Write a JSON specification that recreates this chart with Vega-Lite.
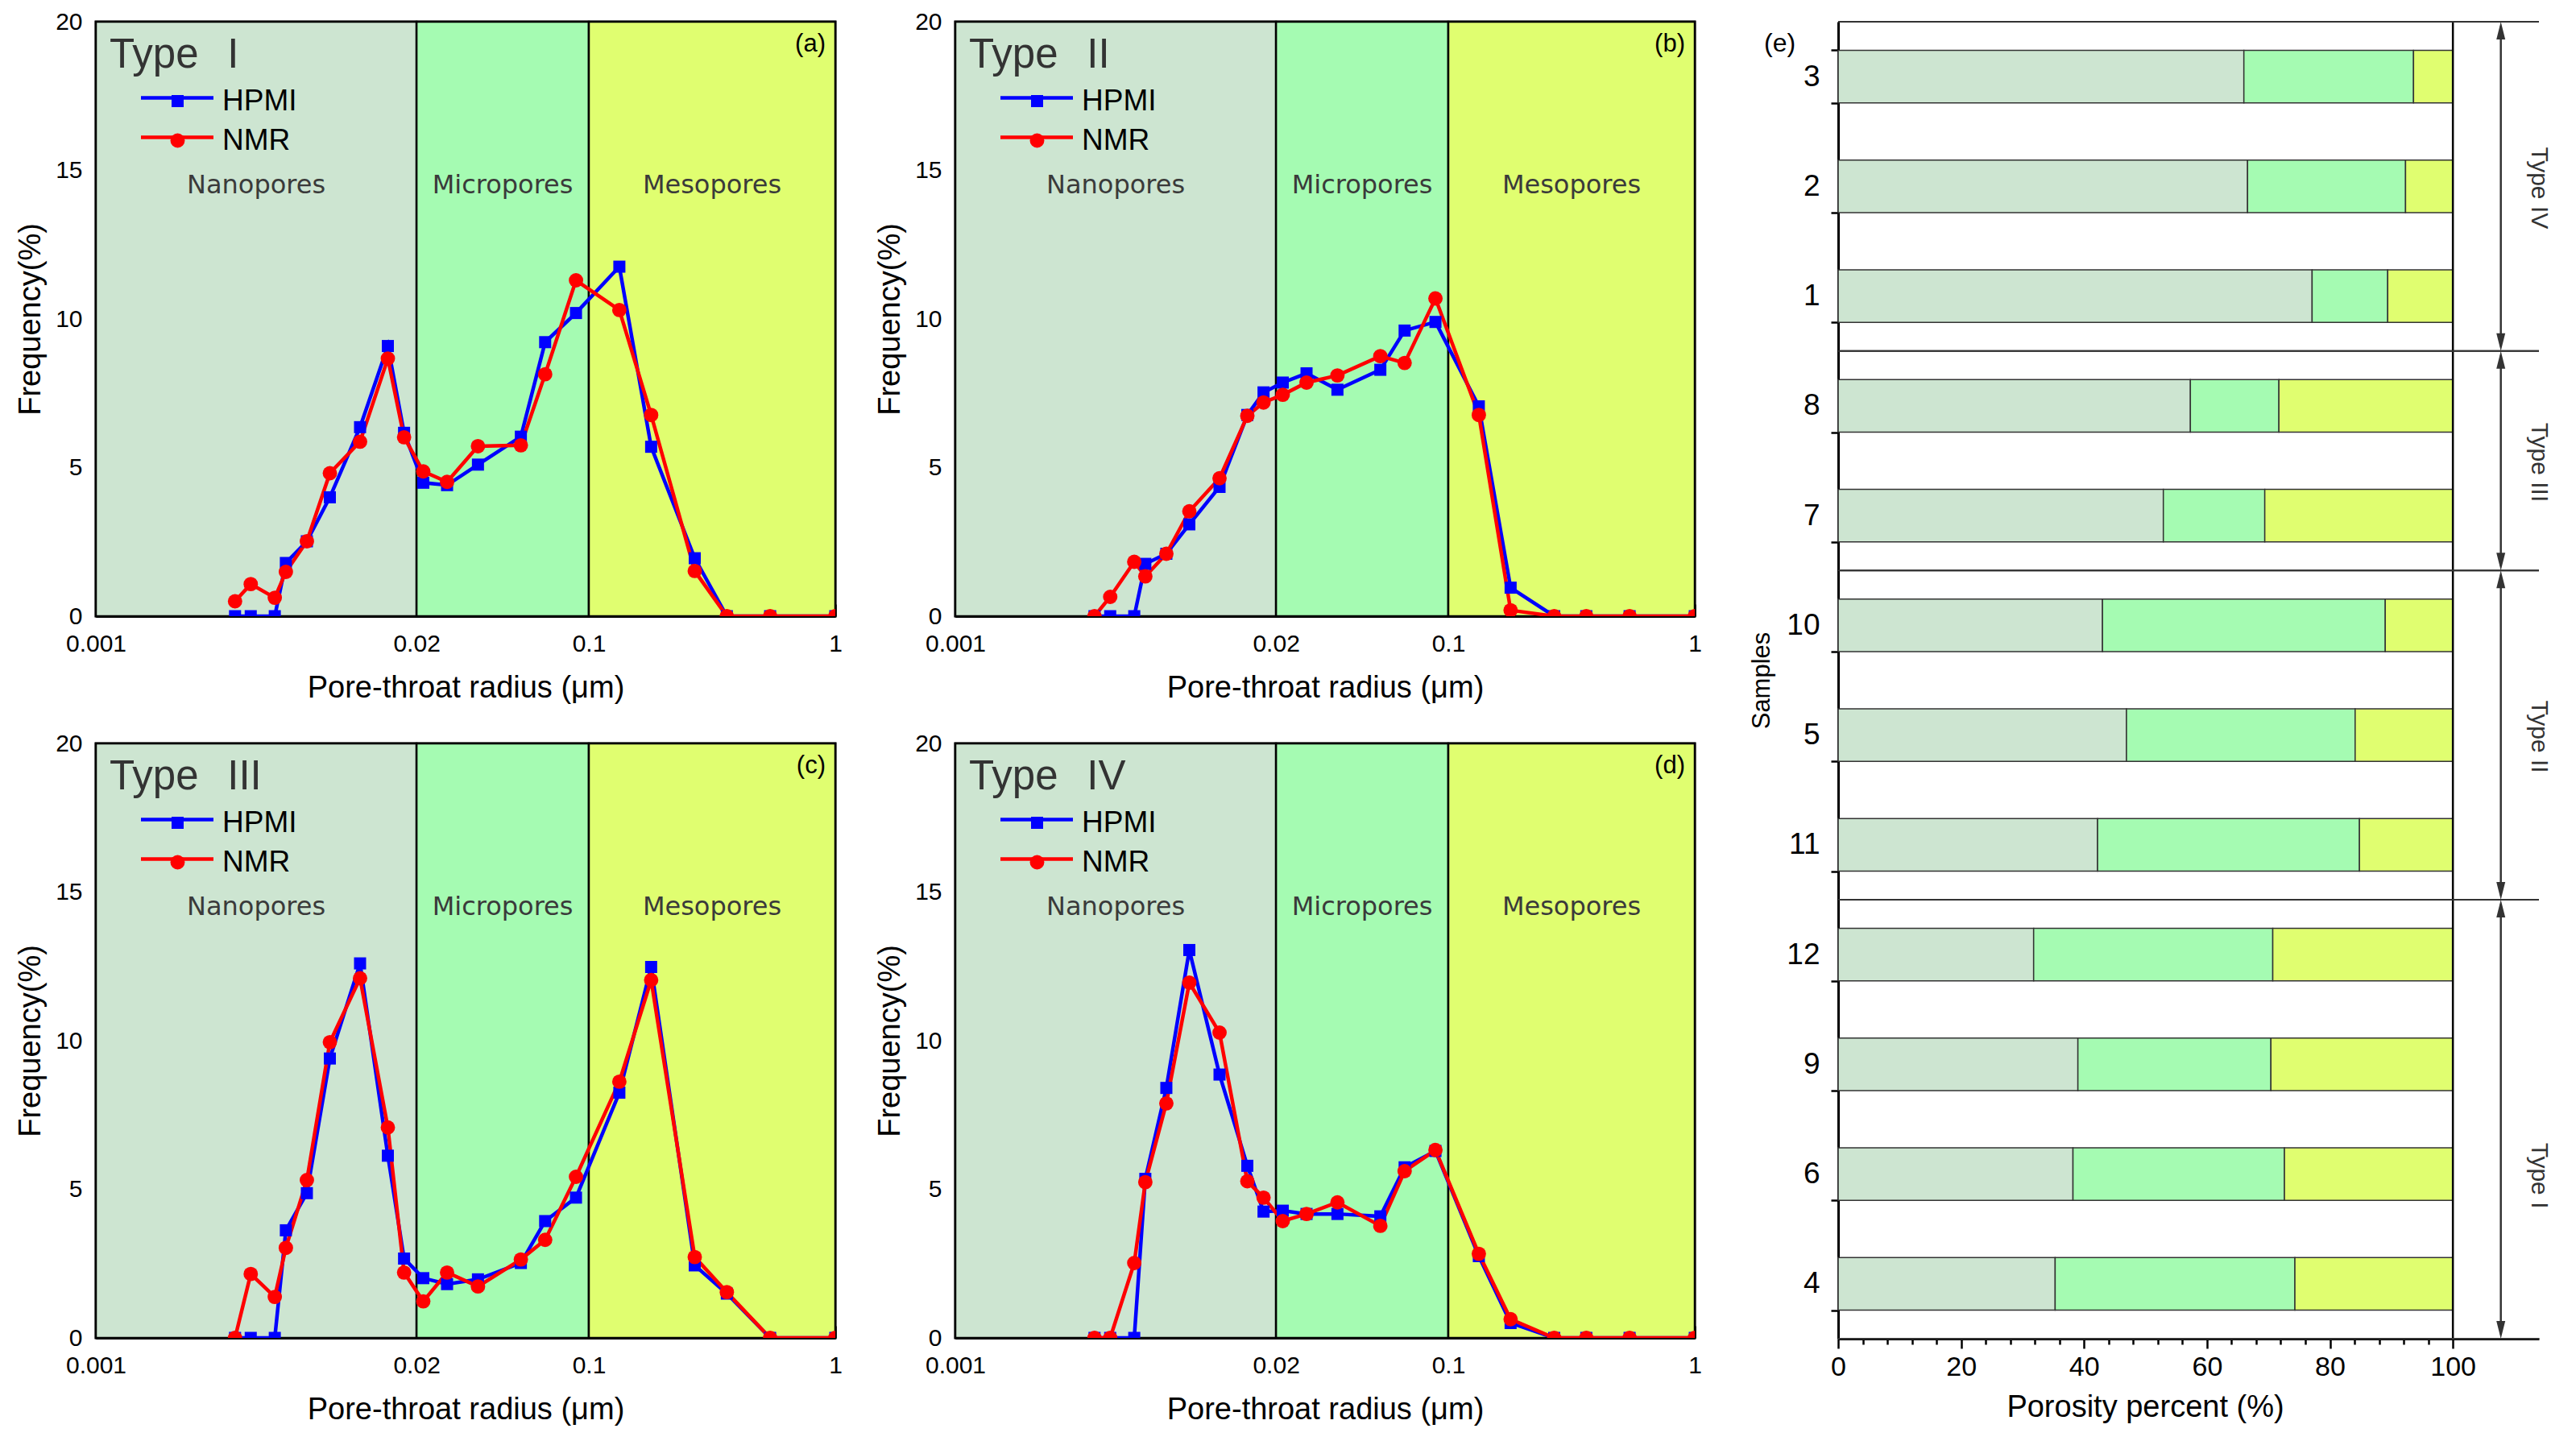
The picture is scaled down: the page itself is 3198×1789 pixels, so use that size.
{
"$schema": "https://vega.github.io/schema/vega-lite/v6.json",
"background": "white",
"padding": {"left": 18, "top": 8, "right": 30, "bottom": 0},
"config": {
 "font": "Liberation Sans",
 "view": {"stroke": "black", "strokeWidth": 3},
 "axis": {"domainColor": "black", "domainWidth": 3, "tickColor": "black", "tickWidth": 2.5, "labelColor": "black", "titleColor": "black", "labelFont": "Liberation Sans", "titleFont": "Liberation Sans", "titleFontWeight": "normal", "labelFontSize": 30, "titleFontSize": 38, "grid": false, "labelOverlap": false, "labelFlush": false}
},
"datasets": {
 "regions": [
  {"region": "Nanopores", "lo": 0.001, "hi": 0.02},
  {"region": "Micropores", "lo": 0.02, "hi": 0.1},
  {"region": "Mesopores", "lo": 0.1, "hi": 1}
 ],
 "psd": [
  {"p":"a","m":"HPMI","r":0.00367,"f":0},{"p":"a","m":"HPMI","r":0.00425,"f":0},{"p":"a","m":"HPMI","r":0.00532,"f":0},{"p":"a","m":"HPMI","r":0.0059,"f":1.79},{"p":"a","m":"HPMI","r":0.00718,"f":2.52},{"p":"a","m":"HPMI","r":0.0089,"f":4.0},{"p":"a","m":"HPMI","r":0.0118,"f":6.36},{"p":"a","m":"HPMI","r":0.0153,"f":9.09},{"p":"a","m":"HPMI","r":0.0178,"f":6.17},{"p":"a","m":"HPMI","r":0.0213,"f":4.49},{"p":"a","m":"HPMI","r":0.0266,"f":4.41},{"p":"a","m":"HPMI","r":0.0355,"f":5.1},{"p":"a","m":"HPMI","r":0.053,"f":6.04},{"p":"a","m":"HPMI","r":0.0665,"f":9.22},{"p":"a","m":"HPMI","r":0.0887,"f":10.2},{"p":"a","m":"HPMI","r":0.133,"f":11.76},{"p":"a","m":"HPMI","r":0.179,"f":5.7},{"p":"a","m":"HPMI","r":0.269,"f":1.95},{"p":"a","m":"HPMI","r":0.363,"f":0},{"p":"a","m":"HPMI","r":0.544,"f":0},{"p":"a","m":"HPMI","r":1,"f":0},
  {"p":"a","m":"NMR","r":0.00367,"f":0.5},{"p":"a","m":"NMR","r":0.00425,"f":1.08},{"p":"a","m":"NMR","r":0.00532,"f":0.62},{"p":"a","m":"NMR","r":0.0059,"f":1.49},{"p":"a","m":"NMR","r":0.00718,"f":2.52},{"p":"a","m":"NMR","r":0.0089,"f":4.81},{"p":"a","m":"NMR","r":0.0118,"f":5.87},{"p":"a","m":"NMR","r":0.0153,"f":8.67},{"p":"a","m":"NMR","r":0.0178,"f":6.02},{"p":"a","m":"NMR","r":0.0213,"f":4.87},{"p":"a","m":"NMR","r":0.0266,"f":4.52},{"p":"a","m":"NMR","r":0.0355,"f":5.72},{"p":"a","m":"NMR","r":0.053,"f":5.75},{"p":"a","m":"NMR","r":0.0665,"f":8.14},{"p":"a","m":"NMR","r":0.0887,"f":11.3},{"p":"a","m":"NMR","r":0.133,"f":10.3},{"p":"a","m":"NMR","r":0.179,"f":6.77},{"p":"a","m":"NMR","r":0.269,"f":1.52},{"p":"a","m":"NMR","r":0.363,"f":0},{"p":"a","m":"NMR","r":0.544,"f":0},{"p":"a","m":"NMR","r":1,"f":0},
  {"p":"b","m":"HPMI","r":0.00367,"f":0},{"p":"b","m":"HPMI","r":0.00425,"f":0},{"p":"b","m":"HPMI","r":0.00532,"f":0},{"p":"b","m":"HPMI","r":0.0059,"f":1.76},{"p":"b","m":"HPMI","r":0.00718,"f":2.1},{"p":"b","m":"HPMI","r":0.0089,"f":3.09},{"p":"b","m":"HPMI","r":0.0118,"f":4.35},{"p":"b","m":"HPMI","r":0.0153,"f":6.77},{"p":"b","m":"HPMI","r":0.0178,"f":7.53},{"p":"b","m":"HPMI","r":0.0213,"f":7.86},{"p":"b","m":"HPMI","r":0.0266,"f":8.17},{"p":"b","m":"HPMI","r":0.0355,"f":7.62},{"p":"b","m":"HPMI","r":0.053,"f":8.29},{"p":"b","m":"HPMI","r":0.0665,"f":9.61},{"p":"b","m":"HPMI","r":0.0887,"f":9.9},{"p":"b","m":"HPMI","r":0.133,"f":7.06},{"p":"b","m":"HPMI","r":0.179,"f":0.96},{"p":"b","m":"HPMI","r":0.269,"f":0},{"p":"b","m":"HPMI","r":0.363,"f":0},{"p":"b","m":"HPMI","r":0.544,"f":0},{"p":"b","m":"HPMI","r":1,"f":0},
  {"p":"b","m":"NMR","r":0.00367,"f":0},{"p":"b","m":"NMR","r":0.00425,"f":0.65},{"p":"b","m":"NMR","r":0.00532,"f":1.83},{"p":"b","m":"NMR","r":0.0059,"f":1.34},{"p":"b","m":"NMR","r":0.00718,"f":2.1},{"p":"b","m":"NMR","r":0.0089,"f":3.53},{"p":"b","m":"NMR","r":0.0118,"f":4.64},{"p":"b","m":"NMR","r":0.0153,"f":6.74},{"p":"b","m":"NMR","r":0.0178,"f":7.19},{"p":"b","m":"NMR","r":0.0213,"f":7.45},{"p":"b","m":"NMR","r":0.0266,"f":7.86},{"p":"b","m":"NMR","r":0.0355,"f":8.1},{"p":"b","m":"NMR","r":0.053,"f":8.75},{"p":"b","m":"NMR","r":0.0665,"f":8.52},{"p":"b","m":"NMR","r":0.0887,"f":10.69},{"p":"b","m":"NMR","r":0.133,"f":6.77},{"p":"b","m":"NMR","r":0.179,"f":0.2},{"p":"b","m":"NMR","r":0.269,"f":0},{"p":"b","m":"NMR","r":0.363,"f":0},{"p":"b","m":"NMR","r":0.544,"f":0},{"p":"b","m":"NMR","r":1,"f":0},
  {"p":"c","m":"HPMI","r":0.00367,"f":0},{"p":"c","m":"HPMI","r":0.00425,"f":0},{"p":"c","m":"HPMI","r":0.00532,"f":0},{"p":"c","m":"HPMI","r":0.0059,"f":3.62},{"p":"c","m":"HPMI","r":0.00718,"f":4.87},{"p":"c","m":"HPMI","r":0.0089,"f":9.4},{"p":"c","m":"HPMI","r":0.0118,"f":12.6},{"p":"c","m":"HPMI","r":0.0153,"f":6.13},{"p":"c","m":"HPMI","r":0.0178,"f":2.67},{"p":"c","m":"HPMI","r":0.0213,"f":2.01},{"p":"c","m":"HPMI","r":0.0266,"f":1.81},{"p":"c","m":"HPMI","r":0.0355,"f":1.97},{"p":"c","m":"HPMI","r":0.053,"f":2.52},{"p":"c","m":"HPMI","r":0.0665,"f":3.93},{"p":"c","m":"HPMI","r":0.0887,"f":4.72},{"p":"c","m":"HPMI","r":0.133,"f":8.25},{"p":"c","m":"HPMI","r":0.179,"f":12.48},{"p":"c","m":"HPMI","r":0.269,"f":2.44},{"p":"c","m":"HPMI","r":0.363,"f":1.49},{"p":"c","m":"HPMI","r":0.544,"f":0},{"p":"c","m":"HPMI","r":1,"f":0},
  {"p":"c","m":"NMR","r":0.00367,"f":0},{"p":"c","m":"NMR","r":0.00425,"f":2.15},{"p":"c","m":"NMR","r":0.00532,"f":1.38},{"p":"c","m":"NMR","r":0.0059,"f":3.03},{"p":"c","m":"NMR","r":0.00718,"f":5.31},{"p":"c","m":"NMR","r":0.0089,"f":9.95},{"p":"c","m":"NMR","r":0.0118,"f":12.1},{"p":"c","m":"NMR","r":0.0153,"f":7.08},{"p":"c","m":"NMR","r":0.0178,"f":2.2},{"p":"c","m":"NMR","r":0.0213,"f":1.23},{"p":"c","m":"NMR","r":0.0266,"f":2.2},{"p":"c","m":"NMR","r":0.0355,"f":1.73},{"p":"c","m":"NMR","r":0.053,"f":2.64},{"p":"c","m":"NMR","r":0.0665,"f":3.3},{"p":"c","m":"NMR","r":0.0887,"f":5.42},{"p":"c","m":"NMR","r":0.133,"f":8.62},{"p":"c","m":"NMR","r":0.179,"f":12.04},{"p":"c","m":"NMR","r":0.269,"f":2.72},{"p":"c","m":"NMR","r":0.363,"f":1.54},{"p":"c","m":"NMR","r":0.544,"f":0},{"p":"c","m":"NMR","r":1,"f":0},
  {"p":"d","m":"HPMI","r":0.00367,"f":0},{"p":"d","m":"HPMI","r":0.00425,"f":0},{"p":"d","m":"HPMI","r":0.00532,"f":0},{"p":"d","m":"HPMI","r":0.0059,"f":5.35},{"p":"d","m":"HPMI","r":0.00718,"f":8.41},{"p":"d","m":"HPMI","r":0.0089,"f":13.05},{"p":"d","m":"HPMI","r":0.0118,"f":8.86},{"p":"d","m":"HPMI","r":0.0153,"f":5.79},{"p":"d","m":"HPMI","r":0.0178,"f":4.25},{"p":"d","m":"HPMI","r":0.0213,"f":4.28},{"p":"d","m":"HPMI","r":0.0266,"f":4.17},{"p":"d","m":"HPMI","r":0.0355,"f":4.17},{"p":"d","m":"HPMI","r":0.053,"f":4.09},{"p":"d","m":"HPMI","r":0.0665,"f":5.74},{"p":"d","m":"HPMI","r":0.0887,"f":6.29},{"p":"d","m":"HPMI","r":0.133,"f":2.75},{"p":"d","m":"HPMI","r":0.179,"f":0.5},{"p":"d","m":"HPMI","r":0.269,"f":0},{"p":"d","m":"HPMI","r":0.363,"f":0},{"p":"d","m":"HPMI","r":0.544,"f":0},{"p":"d","m":"HPMI","r":1,"f":0},
  {"p":"d","m":"NMR","r":0.00367,"f":0},{"p":"d","m":"NMR","r":0.00425,"f":0},{"p":"d","m":"NMR","r":0.00532,"f":2.52},{"p":"d","m":"NMR","r":0.0059,"f":5.24},{"p":"d","m":"NMR","r":0.00718,"f":7.89},{"p":"d","m":"NMR","r":0.0089,"f":11.95},{"p":"d","m":"NMR","r":0.0118,"f":10.27},{"p":"d","m":"NMR","r":0.0153,"f":5.27},{"p":"d","m":"NMR","r":0.0178,"f":4.72},{"p":"d","m":"NMR","r":0.0213,"f":3.93},{"p":"d","m":"NMR","r":0.0266,"f":4.17},{"p":"d","m":"NMR","r":0.0355,"f":4.56},{"p":"d","m":"NMR","r":0.053,"f":3.77},{"p":"d","m":"NMR","r":0.0665,"f":5.61},{"p":"d","m":"NMR","r":0.0887,"f":6.32},{"p":"d","m":"NMR","r":0.133,"f":2.83},{"p":"d","m":"NMR","r":0.179,"f":0.63},{"p":"d","m":"NMR","r":0.269,"f":0},{"p":"d","m":"NMR","r":0.363,"f":0},{"p":"d","m":"NMR","r":0.544,"f":0},{"p":"d","m":"NMR","r":1,"f":0}
 ],
 "porosity": [
  {"sample":"3","cls":"Nanopores","pct":66.0},{"sample":"3","cls":"Micropores","pct":27.6},{"sample":"3","cls":"Mesopores","pct":6.4},
  {"sample":"2","cls":"Nanopores","pct":66.6},{"sample":"2","cls":"Micropores","pct":25.7},{"sample":"2","cls":"Mesopores","pct":7.7},
  {"sample":"1","cls":"Nanopores","pct":77.1},{"sample":"1","cls":"Micropores","pct":12.3},{"sample":"1","cls":"Mesopores","pct":10.6},
  {"sample":"8","cls":"Nanopores","pct":57.3},{"sample":"8","cls":"Micropores","pct":14.4},{"sample":"8","cls":"Mesopores","pct":28.3},
  {"sample":"7","cls":"Nanopores","pct":52.9},{"sample":"7","cls":"Micropores","pct":16.5},{"sample":"7","cls":"Mesopores","pct":30.6},
  {"sample":"10","cls":"Nanopores","pct":43.0},{"sample":"10","cls":"Micropores","pct":46.0},{"sample":"10","cls":"Mesopores","pct":11.0},
  {"sample":"5","cls":"Nanopores","pct":46.9},{"sample":"5","cls":"Micropores","pct":37.2},{"sample":"5","cls":"Mesopores","pct":15.9},
  {"sample":"11","cls":"Nanopores","pct":42.2},{"sample":"11","cls":"Micropores","pct":42.6},{"sample":"11","cls":"Mesopores","pct":15.2},
  {"sample":"12","cls":"Nanopores","pct":31.8},{"sample":"12","cls":"Micropores","pct":38.9},{"sample":"12","cls":"Mesopores","pct":29.3},
  {"sample":"9","cls":"Nanopores","pct":39.0},{"sample":"9","cls":"Micropores","pct":31.4},{"sample":"9","cls":"Mesopores","pct":29.6},
  {"sample":"6","cls":"Nanopores","pct":38.2},{"sample":"6","cls":"Micropores","pct":34.4},{"sample":"6","cls":"Mesopores","pct":27.4},
  {"sample":"4","cls":"Nanopores","pct":35.3},{"sample":"4","cls":"Micropores","pct":39.0},{"sample":"4","cls":"Mesopores","pct":25.7}
 ],
 "groups": [
  {"type":"Type IV","first":"3","last":"1","at":"2"},
  {"type":"Type III","first":"8","last":"7","at":"7"},
  {"type":"Type II","first":"10","last":"11","at":"5"},
  {"type":"Type I","first":"12","last":"4","at":"6"}
 ]
},
"spacing": 57,
"resolve": {"scale": {"color": "independent", "stroke": "independent", "shape": "independent", "size": "independent"}},
"hconcat": [
 {"vconcat": [
  {"hconcat": [
   {"width": 918, "height": 738,
    "title": {"text": "(a)", "orient": "top", "anchor": "end", "frame": "group", "offset": -59, "dx": -12, "fontSize": 31, "fontWeight": "normal", "font": "Liberation Sans", "color": "black"},
    "resolve": {"axis": {"x": "independent", "y": "independent"}},
    "layer": [
     {"data": {"name": "regions"}, "mark": {"type": "rect", "stroke": "black", "strokeWidth": 2.5},
      "encoding": {"x": {"field": "lo", "type": "quantitative", "scale": {"type": "log", "domain": [0.001, 1], "nice": false}, "axis": {"orient": "bottom", "values": [0.001, 0.02, 0.1, 1], "format": "~g", "ticks": false, "labelPadding": 19, "title": "Pore-throat radius (μm)", "titlePadding": 21}},
       "x2": {"field": "hi"},
       "fill": {"field": "region", "type": "nominal", "scale": {"domain": ["Nanopores", "Micropores", "Mesopores"], "range": ["#cde5d1", "#a5fbb2", "#e0fe70"]}, "legend": null}}},
     {"data": {"name": "regions"}, "transform": [{"calculate": "sqrt(datum.lo * datum.hi)", "as": "mid"}],
      "mark": {"type": "text", "font": "DejaVu Sans", "fontSize": 32, "letterSpacing": 0.5, "color": "#3a3a3a", "baseline": "middle", "align": "center"},
      "encoding": {"x": {"field": "mid", "type": "quantitative", "scale": {"type": "log", "domain": [0.001, 1], "nice": false}, "axis": null},
       "y": {"datum": 14.5, "type": "quantitative", "scale": {"domain": [0, 20], "nice": false}, "axis": {"orient": "left", "values": [2.5, 7.5, 12.5, 17.5], "tickSize": -7, "labels": false, "domain": false, "title": null}},
       "text": {"field": "region"}}},
     {"data": {"name": "psd"}, "transform": [{"filter": "datum.p === 'a'"}], "mark": {"type": "line", "strokeWidth": 4.5, "clip": true},
      "encoding": {"x": {"field": "r", "type": "quantitative", "scale": {"type": "log", "domain": [0.001, 1], "nice": false}, "axis": {"orient": "bottom", "values": [0.001, 0.01, 0.1, 1], "tickSize": -15, "labels": false, "domain": false, "title": null}},
       "y": {"field": "f", "type": "quantitative", "scale": {"domain": [0, 20], "nice": false}, "axis": {"orient": "left", "values": [0, 5, 10, 15, 20], "ticks": false, "labelPadding": 17, "title": "Frequency(%)", "titlePadding": 11}},
       "stroke": {"field": "m", "type": "nominal", "scale": {"range": ["#0000ff", "#ff0000"]},
        "legend": {"title": null, "orient": "none", "legendX": 17, "legendY": 71, "padding": 0, "symbolType": "stroke", "symbolSize": 8100, "symbolStrokeWidth": 4.5, "symbolOffset": 36.5, "labelExpr": "''", "labelFontSize": 37, "clipHeight": 47}}}},
     {"data": {"name": "psd"}, "transform": [{"filter": "datum.p === 'a'"}], "mark": {"type": "point", "filled": true, "opacity": 1, "clip": true},
      "encoding": {"x": {"field": "r", "type": "quantitative", "scale": {"type": "log", "domain": [0.001, 1], "nice": false}, "axis": {"orient": "bottom", "values": [0.002,0.003,0.004,0.005,0.006,0.007,0.008,0.009,0.02,0.03,0.04,0.05,0.06,0.07,0.08,0.09,0.2,0.3,0.4,0.5,0.6,0.7,0.8,0.9], "tickSize": -7, "labels": false, "domain": false, "title": null}},
       "y": {"field": "f", "type": "quantitative", "scale": {"domain": [0, 20], "nice": false}, "axis": {"orient": "left", "values": [0, 5, 10, 15, 20], "tickSize": -15, "labels": false, "domain": false, "title": null}},
       "color": {"field": "m", "type": "nominal", "scale": {"domain": ["HPMI", "NMR"], "range": ["#0000ff", "#ff0000"]},
        "legend": {"title": "Type\u2002\u2009I", "orient": "top-left", "offset": 16.5, "padding": 0, "titleFontSize": 51, "titleColor": "#333333", "titleFontWeight": "normal", "titleFont": "Liberation Sans", "titlePadding": 7, "titleLimit": 500, "labelLimit": 400, "labelFontSize": 37, "labelFont": "Liberation Sans", "labelColor": "black", "labelOffset": 37, "symbolOffset": 66, "clipHeight": 47}},
       "shape": {"field": "m", "type": "nominal", "scale": {"domain": ["HPMI", "NMR"], "range": ["square", "circle"]}, "legend": null},
       "size": {"field": "m", "type": "nominal", "scale": {"domain": ["HPMI", "NMR"], "range": [225, 320]}, "legend": null}}}
    ]},
   {"width": 918, "height": 738,
    "title": {"text": "(b)", "orient": "top", "anchor": "end", "frame": "group", "offset": -59, "dx": -12, "fontSize": 31, "fontWeight": "normal", "font": "Liberation Sans", "color": "black"},
    "resolve": {"axis": {"x": "independent", "y": "independent"}},
    "layer": [
     {"data": {"name": "regions"}, "mark": {"type": "rect", "stroke": "black", "strokeWidth": 2.5},
      "encoding": {"x": {"field": "lo", "type": "quantitative", "scale": {"type": "log", "domain": [0.001, 1], "nice": false}, "axis": {"orient": "bottom", "values": [0.001, 0.02, 0.1, 1], "format": "~g", "ticks": false, "labelPadding": 19, "title": "Pore-throat radius (μm)", "titlePadding": 21}},
       "x2": {"field": "hi"},
       "fill": {"field": "region", "type": "nominal", "scale": {"domain": ["Nanopores", "Micropores", "Mesopores"], "range": ["#cde5d1", "#a5fbb2", "#e0fe70"]}, "legend": null}}},
     {"data": {"name": "regions"}, "transform": [{"calculate": "sqrt(datum.lo * datum.hi)", "as": "mid"}],
      "mark": {"type": "text", "font": "DejaVu Sans", "fontSize": 32, "letterSpacing": 0.5, "color": "#3a3a3a", "baseline": "middle", "align": "center"},
      "encoding": {"x": {"field": "mid", "type": "quantitative", "scale": {"type": "log", "domain": [0.001, 1], "nice": false}, "axis": null},
       "y": {"datum": 14.5, "type": "quantitative", "scale": {"domain": [0, 20], "nice": false}, "axis": {"orient": "left", "values": [2.5, 7.5, 12.5, 17.5], "tickSize": -7, "labels": false, "domain": false, "title": null}},
       "text": {"field": "region"}}},
     {"data": {"name": "psd"}, "transform": [{"filter": "datum.p === 'b'"}], "mark": {"type": "line", "strokeWidth": 4.5, "clip": true},
      "encoding": {"x": {"field": "r", "type": "quantitative", "scale": {"type": "log", "domain": [0.001, 1], "nice": false}, "axis": {"orient": "bottom", "values": [0.001, 0.01, 0.1, 1], "tickSize": -15, "labels": false, "domain": false, "title": null}},
       "y": {"field": "f", "type": "quantitative", "scale": {"domain": [0, 20], "nice": false}, "axis": {"orient": "left", "values": [0, 5, 10, 15, 20], "ticks": false, "labelPadding": 17, "title": "Frequency(%)", "titlePadding": 11}},
       "stroke": {"field": "m", "type": "nominal", "scale": {"range": ["#0000ff", "#ff0000"]},
        "legend": {"title": null, "orient": "none", "legendX": 17, "legendY": 71, "padding": 0, "symbolType": "stroke", "symbolSize": 8100, "symbolStrokeWidth": 4.5, "symbolOffset": 36.5, "labelExpr": "''", "labelFontSize": 37, "clipHeight": 47}}}},
     {"data": {"name": "psd"}, "transform": [{"filter": "datum.p === 'b'"}], "mark": {"type": "point", "filled": true, "opacity": 1, "clip": true},
      "encoding": {"x": {"field": "r", "type": "quantitative", "scale": {"type": "log", "domain": [0.001, 1], "nice": false}, "axis": {"orient": "bottom", "values": [0.002,0.003,0.004,0.005,0.006,0.007,0.008,0.009,0.02,0.03,0.04,0.05,0.06,0.07,0.08,0.09,0.2,0.3,0.4,0.5,0.6,0.7,0.8,0.9], "tickSize": -7, "labels": false, "domain": false, "title": null}},
       "y": {"field": "f", "type": "quantitative", "scale": {"domain": [0, 20], "nice": false}, "axis": {"orient": "left", "values": [0, 5, 10, 15, 20], "tickSize": -15, "labels": false, "domain": false, "title": null}},
       "color": {"field": "m", "type": "nominal", "scale": {"domain": ["HPMI", "NMR"], "range": ["#0000ff", "#ff0000"]},
        "legend": {"title": "Type\u2002\u2009II", "orient": "top-left", "offset": 16.5, "padding": 0, "titleFontSize": 51, "titleColor": "#333333", "titleFontWeight": "normal", "titleFont": "Liberation Sans", "titlePadding": 7, "titleLimit": 500, "labelLimit": 400, "labelFontSize": 37, "labelFont": "Liberation Sans", "labelColor": "black", "labelOffset": 37, "symbolOffset": 66, "clipHeight": 47}},
       "shape": {"field": "m", "type": "nominal", "scale": {"domain": ["HPMI", "NMR"], "range": ["square", "circle"]}, "legend": null},
       "size": {"field": "m", "type": "nominal", "scale": {"domain": ["HPMI", "NMR"], "range": [225, 320]}, "legend": null}}}
    ]}
  ], "spacing": 38, "resolve": {"scale": {"color": "independent", "stroke": "independent", "shape": "independent", "size": "independent"}}},
  {"hconcat": [
   {"width": 918, "height": 738,
    "title": {"text": "(c)", "orient": "top", "anchor": "end", "frame": "group", "offset": -59, "dx": -12, "fontSize": 31, "fontWeight": "normal", "font": "Liberation Sans", "color": "black"},
    "resolve": {"axis": {"x": "independent", "y": "independent"}},
    "layer": [
     {"data": {"name": "regions"}, "mark": {"type": "rect", "stroke": "black", "strokeWidth": 2.5},
      "encoding": {"x": {"field": "lo", "type": "quantitative", "scale": {"type": "log", "domain": [0.001, 1], "nice": false}, "axis": {"orient": "bottom", "values": [0.001, 0.02, 0.1, 1], "format": "~g", "ticks": false, "labelPadding": 19, "title": "Pore-throat radius (μm)", "titlePadding": 21}},
       "x2": {"field": "hi"},
       "fill": {"field": "region", "type": "nominal", "scale": {"domain": ["Nanopores", "Micropores", "Mesopores"], "range": ["#cde5d1", "#a5fbb2", "#e0fe70"]}, "legend": null}}},
     {"data": {"name": "regions"}, "transform": [{"calculate": "sqrt(datum.lo * datum.hi)", "as": "mid"}],
      "mark": {"type": "text", "font": "DejaVu Sans", "fontSize": 32, "letterSpacing": 0.5, "color": "#3a3a3a", "baseline": "middle", "align": "center"},
      "encoding": {"x": {"field": "mid", "type": "quantitative", "scale": {"type": "log", "domain": [0.001, 1], "nice": false}, "axis": null},
       "y": {"datum": 14.5, "type": "quantitative", "scale": {"domain": [0, 20], "nice": false}, "axis": {"orient": "left", "values": [2.5, 7.5, 12.5, 17.5], "tickSize": -7, "labels": false, "domain": false, "title": null}},
       "text": {"field": "region"}}},
     {"data": {"name": "psd"}, "transform": [{"filter": "datum.p === 'c'"}], "mark": {"type": "line", "strokeWidth": 4.5, "clip": true},
      "encoding": {"x": {"field": "r", "type": "quantitative", "scale": {"type": "log", "domain": [0.001, 1], "nice": false}, "axis": {"orient": "bottom", "values": [0.001, 0.01, 0.1, 1], "tickSize": -15, "labels": false, "domain": false, "title": null}},
       "y": {"field": "f", "type": "quantitative", "scale": {"domain": [0, 20], "nice": false}, "axis": {"orient": "left", "values": [0, 5, 10, 15, 20], "ticks": false, "labelPadding": 17, "title": "Frequency(%)", "titlePadding": 11}},
       "stroke": {"field": "m", "type": "nominal", "scale": {"range": ["#0000ff", "#ff0000"]},
        "legend": {"title": null, "orient": "none", "legendX": 17, "legendY": 71, "padding": 0, "symbolType": "stroke", "symbolSize": 8100, "symbolStrokeWidth": 4.5, "symbolOffset": 36.5, "labelExpr": "''", "labelFontSize": 37, "clipHeight": 47}}}},
     {"data": {"name": "psd"}, "transform": [{"filter": "datum.p === 'c'"}], "mark": {"type": "point", "filled": true, "opacity": 1, "clip": true},
      "encoding": {"x": {"field": "r", "type": "quantitative", "scale": {"type": "log", "domain": [0.001, 1], "nice": false}, "axis": {"orient": "bottom", "values": [0.002,0.003,0.004,0.005,0.006,0.007,0.008,0.009,0.02,0.03,0.04,0.05,0.06,0.07,0.08,0.09,0.2,0.3,0.4,0.5,0.6,0.7,0.8,0.9], "tickSize": -7, "labels": false, "domain": false, "title": null}},
       "y": {"field": "f", "type": "quantitative", "scale": {"domain": [0, 20], "nice": false}, "axis": {"orient": "left", "values": [0, 5, 10, 15, 20], "tickSize": -15, "labels": false, "domain": false, "title": null}},
       "color": {"field": "m", "type": "nominal", "scale": {"domain": ["HPMI", "NMR"], "range": ["#0000ff", "#ff0000"]},
        "legend": {"title": "Type\u2002\u2009III", "orient": "top-left", "offset": 16.5, "padding": 0, "titleFontSize": 51, "titleColor": "#333333", "titleFontWeight": "normal", "titleFont": "Liberation Sans", "titlePadding": 7, "titleLimit": 500, "labelLimit": 400, "labelFontSize": 37, "labelFont": "Liberation Sans", "labelColor": "black", "labelOffset": 37, "symbolOffset": 66, "clipHeight": 47}},
       "shape": {"field": "m", "type": "nominal", "scale": {"domain": ["HPMI", "NMR"], "range": ["square", "circle"]}, "legend": null},
       "size": {"field": "m", "type": "nominal", "scale": {"domain": ["HPMI", "NMR"], "range": [225, 320]}, "legend": null}}}
    ]},
   {"width": 918, "height": 738,
    "title": {"text": "(d)", "orient": "top", "anchor": "end", "frame": "group", "offset": -59, "dx": -12, "fontSize": 31, "fontWeight": "normal", "font": "Liberation Sans", "color": "black"},
    "resolve": {"axis": {"x": "independent", "y": "independent"}},
    "layer": [
     {"data": {"name": "regions"}, "mark": {"type": "rect", "stroke": "black", "strokeWidth": 2.5},
      "encoding": {"x": {"field": "lo", "type": "quantitative", "scale": {"type": "log", "domain": [0.001, 1], "nice": false}, "axis": {"orient": "bottom", "values": [0.001, 0.02, 0.1, 1], "format": "~g", "ticks": false, "labelPadding": 19, "title": "Pore-throat radius (μm)", "titlePadding": 21}},
       "x2": {"field": "hi"},
       "fill": {"field": "region", "type": "nominal", "scale": {"domain": ["Nanopores", "Micropores", "Mesopores"], "range": ["#cde5d1", "#a5fbb2", "#e0fe70"]}, "legend": null}}},
     {"data": {"name": "regions"}, "transform": [{"calculate": "sqrt(datum.lo * datum.hi)", "as": "mid"}],
      "mark": {"type": "text", "font": "DejaVu Sans", "fontSize": 32, "letterSpacing": 0.5, "color": "#3a3a3a", "baseline": "middle", "align": "center"},
      "encoding": {"x": {"field": "mid", "type": "quantitative", "scale": {"type": "log", "domain": [0.001, 1], "nice": false}, "axis": null},
       "y": {"datum": 14.5, "type": "quantitative", "scale": {"domain": [0, 20], "nice": false}, "axis": {"orient": "left", "values": [2.5, 7.5, 12.5, 17.5], "tickSize": -7, "labels": false, "domain": false, "title": null}},
       "text": {"field": "region"}}},
     {"data": {"name": "psd"}, "transform": [{"filter": "datum.p === 'd'"}], "mark": {"type": "line", "strokeWidth": 4.5, "clip": true},
      "encoding": {"x": {"field": "r", "type": "quantitative", "scale": {"type": "log", "domain": [0.001, 1], "nice": false}, "axis": {"orient": "bottom", "values": [0.001, 0.01, 0.1, 1], "tickSize": -15, "labels": false, "domain": false, "title": null}},
       "y": {"field": "f", "type": "quantitative", "scale": {"domain": [0, 20], "nice": false}, "axis": {"orient": "left", "values": [0, 5, 10, 15, 20], "ticks": false, "labelPadding": 17, "title": "Frequency(%)", "titlePadding": 11}},
       "stroke": {"field": "m", "type": "nominal", "scale": {"range": ["#0000ff", "#ff0000"]},
        "legend": {"title": null, "orient": "none", "legendX": 17, "legendY": 71, "padding": 0, "symbolType": "stroke", "symbolSize": 8100, "symbolStrokeWidth": 4.5, "symbolOffset": 36.5, "labelExpr": "''", "labelFontSize": 37, "clipHeight": 47}}}},
     {"data": {"name": "psd"}, "transform": [{"filter": "datum.p === 'd'"}], "mark": {"type": "point", "filled": true, "opacity": 1, "clip": true},
      "encoding": {"x": {"field": "r", "type": "quantitative", "scale": {"type": "log", "domain": [0.001, 1], "nice": false}, "axis": {"orient": "bottom", "values": [0.002,0.003,0.004,0.005,0.006,0.007,0.008,0.009,0.02,0.03,0.04,0.05,0.06,0.07,0.08,0.09,0.2,0.3,0.4,0.5,0.6,0.7,0.8,0.9], "tickSize": -7, "labels": false, "domain": false, "title": null}},
       "y": {"field": "f", "type": "quantitative", "scale": {"domain": [0, 20], "nice": false}, "axis": {"orient": "left", "values": [0, 5, 10, 15, 20], "tickSize": -15, "labels": false, "domain": false, "title": null}},
       "color": {"field": "m", "type": "nominal", "scale": {"domain": ["HPMI", "NMR"], "range": ["#0000ff", "#ff0000"]},
        "legend": {"title": "Type\u2002\u2009IV", "orient": "top-left", "offset": 16.5, "padding": 0, "titleFontSize": 51, "titleColor": "#333333", "titleFontWeight": "normal", "titleFont": "Liberation Sans", "titlePadding": 7, "titleLimit": 500, "labelLimit": 400, "labelFontSize": 37, "labelFont": "Liberation Sans", "labelColor": "black", "labelOffset": 37, "symbolOffset": 66, "clipHeight": 47}},
       "shape": {"field": "m", "type": "nominal", "scale": {"domain": ["HPMI", "NMR"], "range": ["square", "circle"]}, "legend": null},
       "size": {"field": "m", "type": "nominal", "scale": {"domain": ["HPMI", "NMR"], "range": [225, 320]}, "legend": null}}}
    ]}
  ], "spacing": 38, "resolve": {"scale": {"color": "independent", "stroke": "independent", "shape": "independent", "size": "independent"}}}
 ], "spacing": 31, "resolve": {"scale": {"color": "independent", "stroke": "independent", "shape": "independent", "size": "independent"}}},
 {"width": 870, "height": 1635,
  "view": {"stroke": null},
  "title": {"text": "(e)", "orient": "top", "anchor": "start", "frame": "group", "offset": -63, "dx": -92, "fontSize": 32, "fontWeight": "normal", "font": "Liberation Sans", "color": "black"},
  "resolve": {"axis": {"x": "independent", "y": "independent"}},
  "layer": [
   {"data": {"name": "porosity"}, "mark": {"type": "bar", "stroke": "#333333", "strokeWidth": 1.5},
    "encoding": {
     "y": {"field": "sample", "type": "nominal", "scale": {"domain": ["3","2","1","8","7","10","5","11","12","9","6","4"], "paddingInner": 0.52, "paddingOuter": 0.26}, "axis": {"orient": "left", "tickBand": "extent", "tickSize": 9, "labelPadding": 14, "labelFontSize": 37, "title": "Samples", "titleFontSize": 31, "titlePadding": 14, "labelAngle": 0}},
     "x": {"field": "pct", "type": "quantitative", "stack": "zero", "scale": {"domain": [0, 114], "nice": false}, "axis": {"orient": "bottom", "values": [0, 20, 40, 60, 80, 100], "tickSize": 12, "labelPadding": 6, "labelFontSize": 34, "title": "Porosity percent (%)", "titleFontSize": 38, "titlePadding": 14, "titleX": 381}},
     "fill": {"field": "cls", "type": "nominal", "scale": {"domain": ["Nanopores", "Micropores", "Mesopores"], "range": ["#cde5d1", "#a5fbb2", "#e0fe70"]}, "legend": null},
     "order": {"field": "cls", "sort": "descending"}}},
   {"data": {"values": [{}]}, "mark": {"type": "rule", "strokeWidth": 2.5, "color": "black"},
    "encoding": {"x": {"datum": 100, "type": "quantitative", "scale": {"domain": [0, 114], "nice": false}, "axis": {"orient": "bottom", "values": [4,8,12,16,24,28,32,36,44,48,52,56,64,68,72,76,84,88,92,96], "tickSize": 7, "labels": false, "domain": false, "title": null}}}},
   {"data": {"name": "groups"}, "mark": {"type": "rule", "strokeWidth": 2, "color": "#333333", "yOffset": -35.4},
    "encoding": {"y": {"field": "first", "type": "nominal", "bandPosition": 0, "scale": {"domain": ["3","2","1","8","7","10","5","11","12","9","6","4"], "paddingInner": 0.52, "paddingOuter": 0.26}, "axis": null}}},
   {"data": {"name": "groups"}, "mark": {"type": "rule", "strokeWidth": 2, "color": "#333333", "yOffset": 35.4},
    "encoding": {"y": {"field": "last", "type": "nominal", "bandPosition": 1, "scale": {"domain": ["3","2","1","8","7","10","5","11","12","9","6","4"], "paddingInner": 0.52, "paddingOuter": 0.26}, "axis": null}}},
   {"data": {"name": "groups"}, "mark": {"type": "rule", "strokeWidth": 2.5, "color": "#333333", "yOffset": -30, "y2Offset": 30},
    "encoding": {"x": {"datum": 107.8, "type": "quantitative", "scale": {"domain": [0, 114], "nice": false}, "axis": {"orient": "top", "values": [50], "ticks": false, "domain": false, "labelOpacity": 0, "labelFontSize": 16, "labelPadding": 0, "title": null}},
     "y": {"field": "first", "type": "nominal", "bandPosition": 0, "scale": {"domain": ["3","2","1","8","7","10","5","11","12","9","6","4"], "paddingInner": 0.52, "paddingOuter": 0.26}, "axis": null},
     "y2": {"field": "last", "bandPosition": 1}}},
   {"data": {"name": "groups"}, "mark": {"type": "point", "filled": true, "opacity": 1, "color": "#333333", "shape": "M0,-1L0.5,1L-0.5,1Z", "size": 484, "yOffset": -24.4},
    "encoding": {"x": {"datum": 107.8, "type": "quantitative", "scale": {"domain": [0, 114], "nice": false}, "axis": null},
     "y": {"field": "first", "type": "nominal", "bandPosition": 0, "scale": {"domain": ["3","2","1","8","7","10","5","11","12","9","6","4"], "paddingInner": 0.52, "paddingOuter": 0.26}, "axis": null}}},
   {"data": {"name": "groups"}, "mark": {"type": "point", "filled": true, "opacity": 1, "color": "#333333", "shape": "M0,1L0.5,-1L-0.5,-1Z", "size": 484, "yOffset": 24.4},
    "encoding": {"x": {"datum": 107.8, "type": "quantitative", "scale": {"domain": [0, 114], "nice": false}, "axis": null},
     "y": {"field": "last", "type": "nominal", "bandPosition": 1, "scale": {"domain": ["3","2","1","8","7","10","5","11","12","9","6","4"], "paddingInner": 0.52, "paddingOuter": 0.26}, "axis": null}}},
   {"data": {"name": "groups"}, "transform": [{"filter": "datum.type !== 'Type III'"}], "mark": {"type": "text", "angle": 90, "fontSize": 30, "color": "#333333", "font": "Liberation Sans", "align": "center", "baseline": "middle", "dx": 2},
    "encoding": {"x": {"datum": 114, "type": "quantitative", "scale": {"domain": [0, 114], "nice": false}, "axis": null},
     "y": {"field": "at", "type": "nominal", "bandPosition": 0.5, "scale": {"domain": ["3","2","1","8","7","10","5","11","12","9","6","4"], "paddingInner": 0.52, "paddingOuter": 0.26}, "axis": null},
     "text": {"field": "type"}}},
   {"data": {"name": "groups"}, "transform": [{"filter": "datum.type === 'Type III'"}], "mark": {"type": "text", "angle": 90, "fontSize": 30, "color": "#333333", "font": "Liberation Sans", "align": "center", "baseline": "middle", "dx": 2, "yOffset": -35.4},
    "encoding": {"x": {"datum": 114, "type": "quantitative", "scale": {"domain": [0, 114], "nice": false}, "axis": null},
     "y": {"field": "at", "type": "nominal", "bandPosition": 0, "scale": {"domain": ["3","2","1","8","7","10","5","11","12","9","6","4"], "paddingInner": 0.52, "paddingOuter": 0.26}, "axis": null},
     "text": {"field": "type"}}}
  ]}
]
}
